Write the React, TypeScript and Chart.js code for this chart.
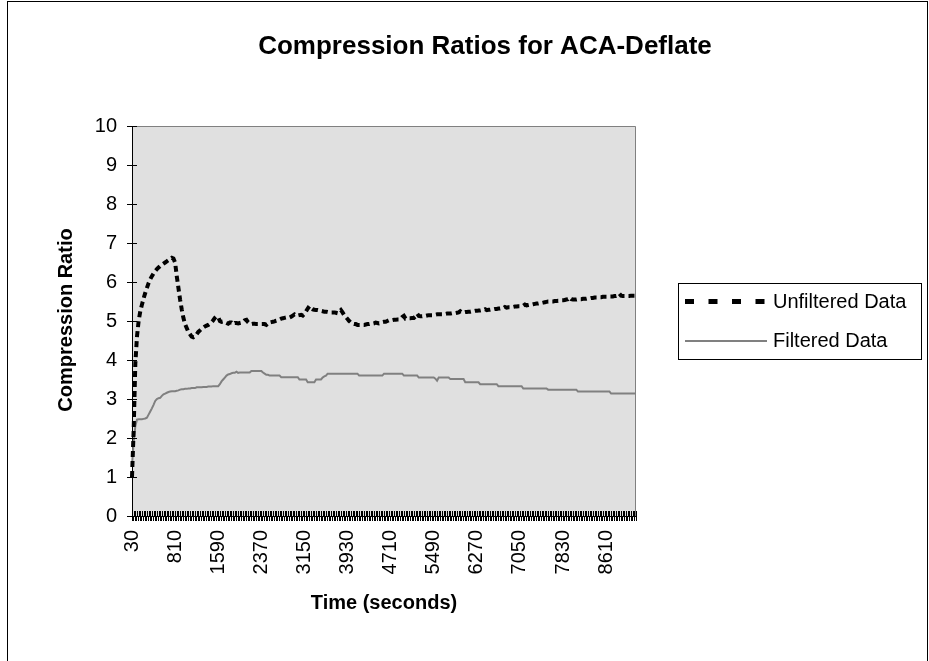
import React, { useEffect, useRef } from "react";
import { Chart, registerables } from "chart.js";

Chart.register(...registerables);

// Time categories (seconds): 30, 60, ... 9150
const TIME_START = 30;
const TIME_STEP = 30;
const TIME_COUNT = 305;
const times: number[] = Array.from({ length: TIME_COUNT }, (_, i) => TIME_START + i * TIME_STEP);

// Labels shown on the x axis
const xTickLabels = [30, 810, 1590, 2370, 3150, 3930, 4710, 5490, 6270, 7050, 7830, 8610];

const unfiltered: number[] = [
  1.0, 2.2, 3.9, 4.6, 5.0, 5.25, 5.42, 5.58, 5.72, 5.85,
  5.97, 6.07, 6.15, 6.22, 6.28, 6.33, 6.37, 6.41, 6.44, 6.47,
  6.5, 6.53, 6.56, 6.59, 6.62, 6.6, 6.5, 6.15, 5.85, 5.55,
  5.3, 5.08, 4.92, 4.82, 4.72, 4.66, 4.6, 4.58, 4.6, 4.66,
  4.72, 4.76, 4.8, 4.83, 4.86, 4.88, 4.9, 4.93, 4.97, 5.02,
  5.08, 5.12, 5.1, 5.0, 4.98, 4.99, 4.97, 4.95, 4.93, 4.96,
  4.96, 4.92, 4.95, 4.95, 4.94, 4.95, 4.96, 4.98, 5.02, 5.03,
  4.97, 4.93, 4.92, 4.93, 4.93, 4.92, 4.92, 4.92, 4.92, 4.92,
  4.92, 4.9, 4.95, 4.96, 4.97, 4.98, 4.99, 5.01, 5.02, 5.04,
  5.06, 5.07, 5.08, 5.09, 5.1, 5.09, 5.11, 5.14, 5.17, 5.14,
  5.14, 5.15, 5.16, 5.14, 5.18, 5.25, 5.32, 5.38, 5.33, 5.3,
  5.29, 5.28, 5.28, 5.27, 5.26, 5.25, 5.24, 5.24, 5.23, 5.22,
  5.22, 5.22, 5.22, 5.21, 5.2, 5.24, 5.28, 5.22, 5.15, 5.1,
  5.05, 5.0, 4.96, 4.93, 4.92, 4.92, 4.9, 4.9, 4.9, 4.9,
  4.9, 4.91, 4.92, 4.92, 4.93, 4.93, 4.94, 4.96, 4.95, 4.94,
  4.95, 4.97, 4.98, 4.98, 5.0, 5.02, 5.02, 5.02, 5.03, 5.03,
  5.04, 5.04, 5.05, 5.1, 5.13, 5.06, 5.06, 5.07, 5.07, 5.08,
  5.08, 5.12, 5.19, 5.13, 5.12, 5.12, 5.13, 5.13, 5.14, 5.15,
  5.15, 5.15, 5.16, 5.16, 5.17, 5.17, 5.17, 5.17, 5.18, 5.18,
  5.19, 5.19, 5.19, 5.2, 5.2, 5.2, 5.21, 5.22, 5.25, 5.22,
  5.22, 5.23, 5.23, 5.24, 5.24, 5.25, 5.25, 5.26, 5.26, 5.27,
  5.27, 5.28, 5.28, 5.3, 5.28, 5.29, 5.29, 5.3, 5.3, 5.31,
  5.31, 5.32, 5.32, 5.33, 5.33, 5.36, 5.34, 5.35, 5.35, 5.36,
  5.36, 5.37, 5.37, 5.38, 5.38, 5.39, 5.39, 5.42, 5.4, 5.41,
  5.42, 5.42, 5.43, 5.44, 5.45, 5.45, 5.46, 5.46, 5.47, 5.48,
  5.49, 5.5, 5.5, 5.5, 5.5, 5.51, 5.51, 5.52, 5.52, 5.53,
  5.53, 5.54, 5.55, 5.56, 5.6, 5.56, 5.55, 5.55, 5.55, 5.56,
  5.56, 5.56, 5.57, 5.57, 5.57, 5.58, 5.58, 5.59, 5.59, 5.6,
  5.6, 5.6, 5.61, 5.61, 5.62, 5.62, 5.62, 5.62, 5.63, 5.63,
  5.63, 5.64, 5.64, 5.65, 5.7, 5.65, 5.64, 5.64, 5.64, 5.64,
  5.64, 5.65, 5.65, 5.65, 5.65,
];

const filtered: number[] = [
  1.3, 1.9, 2.3, 2.47, 2.48, 2.48, 2.48, 2.49, 2.5, 2.52,
  2.6, 2.68, 2.76, 2.85, 2.95, 3.0, 3.02, 3.03, 3.08, 3.12,
  3.14, 3.16, 3.18, 3.19, 3.2, 3.2, 3.2, 3.21, 3.22, 3.24,
  3.25, 3.25, 3.26, 3.26, 3.27, 3.27, 3.28, 3.28, 3.28, 3.3,
  3.3, 3.3, 3.3, 3.31, 3.31, 3.31, 3.32, 3.32, 3.32, 3.33,
  3.33, 3.33, 3.33, 3.38, 3.45, 3.5, 3.55, 3.6, 3.63, 3.64,
  3.66, 3.67, 3.67, 3.7, 3.67, 3.68, 3.68, 3.68, 3.68, 3.68,
  3.68, 3.68, 3.72, 3.72, 3.72, 3.72, 3.72, 3.72, 3.72, 3.68,
  3.65, 3.62, 3.62, 3.6, 3.6, 3.6, 3.6, 3.6, 3.6, 3.6,
  3.56, 3.56, 3.56, 3.56, 3.56, 3.56, 3.56, 3.56, 3.56, 3.56,
  3.56, 3.5, 3.5, 3.5, 3.5, 3.5, 3.43, 3.43, 3.43, 3.43,
  3.43, 3.5, 3.5, 3.5, 3.5, 3.55, 3.58, 3.6, 3.65, 3.65,
  3.65, 3.65, 3.65, 3.65, 3.65, 3.65, 3.65, 3.65, 3.65, 3.65,
  3.65, 3.65, 3.65, 3.65, 3.65, 3.65, 3.65, 3.6, 3.6, 3.6,
  3.6, 3.6, 3.6, 3.6, 3.6, 3.6, 3.6, 3.6, 3.6, 3.6,
  3.6, 3.6, 3.65, 3.65, 3.65, 3.65, 3.65, 3.65, 3.65, 3.65,
  3.65, 3.65, 3.65, 3.65, 3.6, 3.6, 3.6, 3.6, 3.6, 3.6,
  3.6, 3.6, 3.6, 3.55, 3.55, 3.55, 3.55, 3.55, 3.55, 3.55,
  3.55, 3.55, 3.55, 3.52, 3.47, 3.55, 3.55, 3.55, 3.55, 3.55,
  3.55, 3.55, 3.51, 3.51, 3.51, 3.51, 3.51, 3.51, 3.51, 3.51,
  3.51, 3.43, 3.43, 3.43, 3.43, 3.43, 3.43, 3.43, 3.43, 3.43,
  3.38, 3.38, 3.38, 3.38, 3.38, 3.38, 3.38, 3.38, 3.38, 3.38,
  3.38, 3.33, 3.33, 3.33, 3.33, 3.33, 3.33, 3.33, 3.33, 3.33,
  3.33, 3.33, 3.33, 3.33, 3.33, 3.33, 3.27, 3.27, 3.27, 3.27,
  3.27, 3.27, 3.27, 3.27, 3.27, 3.27, 3.27, 3.27, 3.27, 3.27,
  3.27, 3.24, 3.24, 3.24, 3.24, 3.24, 3.24, 3.24, 3.24, 3.24,
  3.24, 3.24, 3.24, 3.24, 3.24, 3.24, 3.24, 3.24, 3.24, 3.19,
  3.19, 3.19, 3.19, 3.19, 3.19, 3.19, 3.19, 3.19, 3.19, 3.19,
  3.19, 3.19, 3.19, 3.19, 3.19, 3.19, 3.19, 3.19, 3.19, 3.14,
  3.14, 3.14, 3.14, 3.14, 3.14, 3.14, 3.14, 3.14, 3.14, 3.14,
  3.14, 3.14, 3.14, 3.14, 3.14,
];

const TITLE = "Compression Ratios for ACA-Deflate";
const Y_TITLE = "Compression Ratio";
const X_TITLE = "Time (seconds)";
const SERIES_NAMES = ["Unfiltered Data", "Filtered Data"];

const FONT = "'Liberation Sans', Arial, sans-serif";

const decorPlugin = {
  id: "decor",
  beforeDraw(chart: any) {
    const { ctx, chartArea: a } = chart;
    ctx.save();
    ctx.fillStyle = "#ffffff";
    ctx.fillRect(0, 0, chart.width, chart.height);
    ctx.fillStyle = "#e0e0e0";
    ctx.fillRect(a.left, a.top, a.right - a.left, a.bottom - a.top);
    ctx.strokeStyle = "#808080";
    ctx.lineWidth = 1;
    ctx.beginPath();
    ctx.moveTo(a.left, Math.round(a.top) + 0.5);
    ctx.lineTo(Math.round(a.right) - 0.5, Math.round(a.top) + 0.5);
    ctx.lineTo(Math.round(a.right) - 0.5, a.bottom);
    ctx.stroke();
    ctx.restore();
  },
  afterDraw(chart: any) {
    const { ctx, chartArea: a } = chart;
    const xs = chart.scales.x;
    const ys = chart.scales.y;
    ctx.save();
    // inner tick marks (crossing the axes)
    ctx.strokeStyle = "#000";
    ctx.lineWidth = 1;
    ctx.beginPath();
    for (let i = 0; i < times.length; i++) {
      const px = Math.round(xs.getPixelForValue(i)) + 0.5;
      ctx.moveTo(px, a.bottom - 5);
      ctx.lineTo(px, a.bottom);
    }
    for (let v = 0; v <= 10; v++) {
      const py = Math.round(ys.getPixelForValue(v)) + 0.5;
      ctx.moveTo(a.left, py);
      ctx.lineTo(a.left + 5, py);
    }
    ctx.stroke();

    ctx.fillStyle = "#000";
    // title
    ctx.font = `bold 26px ${FONT}`;
    ctx.textAlign = "center";
    ctx.textBaseline = "middle";
    ctx.fillText(TITLE, 485, 47);
    // axis titles
    ctx.font = `bold 20px ${FONT}`;
    ctx.fillText(X_TITLE, 384, 603);
    ctx.save();
    ctx.translate(66, 320);
    ctx.rotate(-Math.PI / 2);
    ctx.fillText(Y_TITLE, 0, 0);
    ctx.restore();

    // legend
    ctx.strokeStyle = "#000";
    ctx.lineWidth = 1;
    ctx.strokeRect(678.5, 283.5, 243, 76);
    ctx.beginPath();
    ctx.setLineDash([9, 14.5]);
    ctx.lineWidth = 5;
    ctx.moveTo(685, 301.5);
    ctx.lineTo(766, 301.5);
    ctx.stroke();
    ctx.setLineDash([]);
    ctx.beginPath();
    ctx.strokeStyle = "#808080";
    ctx.lineWidth = 2;
    ctx.moveTo(685, 341);
    ctx.lineTo(767, 341);
    ctx.stroke();
    ctx.fillStyle = "#000";
    ctx.font = `20px ${FONT}`;
    ctx.textAlign = "left";
    ctx.fillText(SERIES_NAMES[0], 773, 302);
    ctx.fillText(SERIES_NAMES[1], 773, 341);

    // outer frame
    ctx.strokeStyle = "#000";
    ctx.lineWidth = 1;
    ctx.strokeRect(7.5, 1.5, 920, 700);
    ctx.restore();
  },
};

export default function App() {
  const ref = useRef<HTMLCanvasElement>(null);
  useEffect(() => {
    if (!ref.current) return;
    const chart = new Chart(ref.current, {
      type: "line",
      data: {
        labels: times.map(String),
        datasets: [
          {
            label: SERIES_NAMES[0],
            data: unfiltered,
            borderColor: "#000000",
            borderWidth: 4,
            borderDash: [6, 4],
            borderCapStyle: "butt",
            pointRadius: 0,
            tension: 0,
            fill: false,
          },
          {
            label: SERIES_NAMES[1],
            data: filtered,
            borderColor: "#808080",
            borderWidth: 2,
            pointRadius: 0,
            tension: 0,
            fill: false,
          },
        ],
      },
      options: {
        responsive: false,
        animation: false,
        events: [],
        layout: { padding: { left: 62, top: 126, right: 293, bottom: 65 } },
        plugins: {
          legend: { display: false },
          title: { display: false },
          tooltip: { enabled: false },
        },
        scales: {
          x: {
            type: "category",
            offset: false,
            afterFit: (s: any) => {
              s.height = 80;
            },
            grid: {
              display: true,
              drawOnChartArea: false,
              drawTicks: true,
              tickLength: 5,
              color: "#000",
              lineWidth: 1,
            },
            border: { display: true, color: "#000", width: 1 },
            ticks: {
              autoSkip: false,
              maxRotation: 90,
              minRotation: 90,
              padding: 9,
              color: "#000",
              font: { family: FONT, size: 20 },
              callback: (_v: any, i: number) =>
                xTickLabels.includes(times[i]) ? String(times[i]) : "",
            },
          },
          y: {
            min: 0,
            max: 10,
            afterFit: (s: any) => {
              s.width = 70;
            },
            grid: {
              display: true,
              drawOnChartArea: false,
              drawTicks: true,
              tickLength: 5,
              color: "#000",
              lineWidth: 1,
            },
            border: { display: true, color: "#000", width: 1 },
            ticks: {
              stepSize: 1,
              padding: 10,
              color: "#000",
              font: { family: FONT, size: 20 },
            },
          },
        },
      },
      plugins: [decorPlugin],
    });
    return () => chart.destroy();
  }, []);
  return (
    <div style={{ position: "fixed", left: 0, top: 0, width: 929, height: 661 }}>
      <canvas ref={ref} width={929} height={661} style={{ display: "block" }} />
    </div>
  );
}
